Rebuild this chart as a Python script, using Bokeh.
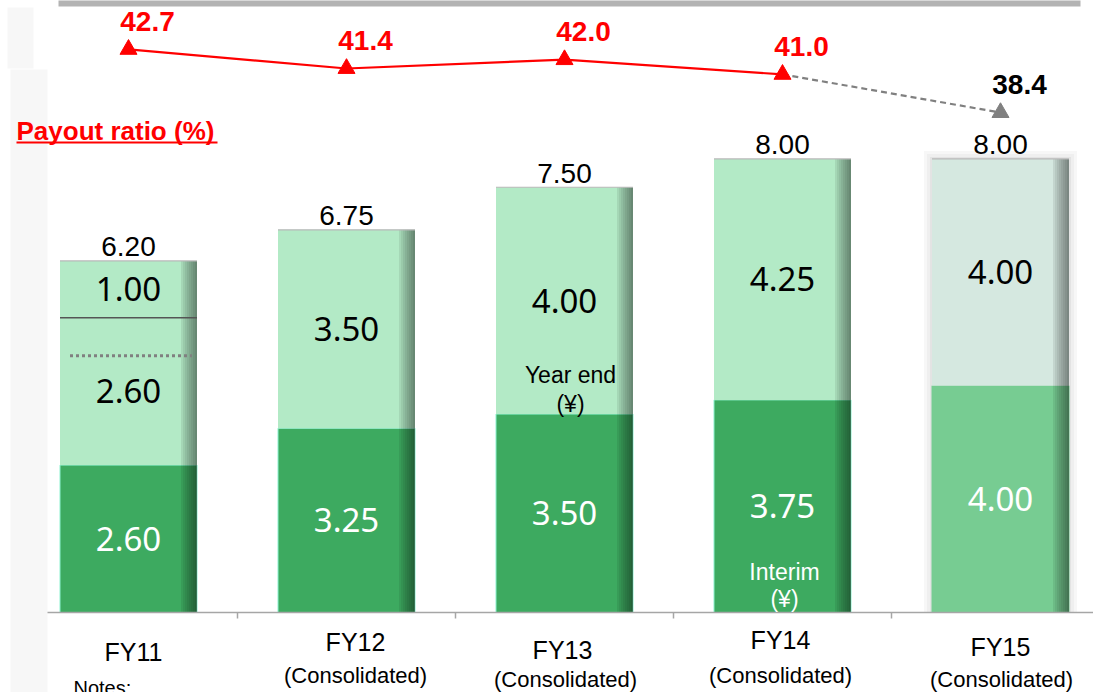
from bokeh.plotting import figure
from bokeh.models import Range1d
from bokeh.core.properties import value
from bokeh.embed import file_html
from bokeh.resources import INLINE

# ---------------- data ----------------
categories = ["FY11", "FY12", "FY13", "FY14", "FY15"]
sublabels = ["", "(Consolidated)", "(Consolidated)", "(Consolidated)", "(Consolidated)"]
interim = [2.60, 3.25, 3.50, 3.75, 4.00]
year_end = [2.60, 3.50, 4.00, 4.25, 4.00]
extra = [1.00, 0.0, 0.0, 0.0, 0.0]
totals = [6.20, 6.75, 7.50, 8.00, 8.00]
payout = [42.7, 41.4, 42.0, 41.0, 38.4]
fy11_dotted_level = 4.53

# ---------------- geometry / mapping ----------------
W, H = 1093, 692
X0, DX = 128.0, 218.0          # px of first category centre, px per category
BASE, PPU = 612.0, 56.7        # px of zero line, px per yen
R_TOP, R_PPU = 46.025, 14.7    # payout ratio axis

x_start, x_end = -X0 / DX, (W - X0) / DX
y_start, y_end = -(H - BASE) / PPU, BASE / PPU
r_start = R_TOP - H / R_PPU


def px_x(px):
    return (px - X0) / DX


def px_y(py):
    return (BASE - py) / PPU


xs = list(range(len(categories)))
BW = 137.0 / DX

p = figure(width=W, height=H, x_range=Range1d(x_start, x_end), y_range=Range1d(y_start, y_end),
           output_backend="svg", toolbar_location=None, min_border=0,
           min_border_left=0, min_border_right=0, min_border_top=0, min_border_bottom=0,
           outline_line_color=None, background_fill_color="white", border_fill_color="white")
p.extra_y_ranges = {"ratio": Range1d(r_start, R_TOP)}
p.axis.visible = False
p.grid.visible = False

# ---------------- decorative background ----------------
p.quad(left=[px_x(7)], right=[px_x(33)], top=[px_y(7)], bottom=[px_y(68)],
       fill_color="#F7F7F7", line_color=None)
p.quad(left=[px_x(10)], right=[px_x(47)], top=[px_y(69)], bottom=[px_y(700)],
       fill_color="#F7F7F7", line_color=None)
p.quad(left=[px_x(58)], right=[px_x(1080)], top=[px_y(-2)], bottom=[px_y(6)],
       fill_color="#B3B3B3", line_color=None)

# ---------------- bars ----------------
dark_cols = ["#3DAA60"] * 4 + ["#77CC92"]
light_cols = ["#B3EAC6"] * 4 + ["#D5E8E0"]
out_cols = ["#8DF2D0"] * 4 + ["#77CC92"]
stack1 = [a + b for a, b in zip(interim, year_end)]

# FY15 soft shadow
for grow, col in [(8, "#F7F7F7"), (5, "#EFEFEF"), (2, "#E3E3E3")]:
    p.vbar(x=[xs[4]], width=BW + 2 * grow / DX, bottom=[0], top=[totals[4] + grow / PPU],
           fill_color=col, line_color=None)

p.vbar(x=xs, width=BW, bottom=0, top=interim, fill_color=dark_cols, line_color=out_cols, line_width=1)
p.vbar(x=xs, width=BW, bottom=interim, top=stack1, fill_color=light_cols, line_color=None)
ex_x = [x for x, e in zip(xs, extra) if e > 0]
ex_b = [s for s, e in zip(stack1, extra) if e > 0]
ex_t = [s + e for s, e in zip(stack1, extra) if e > 0]
p.vbar(x=ex_x, width=BW, bottom=ex_b, top=ex_t, fill_color="#B3EAC6", line_color=None)

# right-edge shading
SW = 2.0 / DX
for k in range(8):
    a = 0.42 * (1 - k / 8.0) ** 0.8
    p.vbar(x=[x + BW / 2 - (k + 0.5) * SW for x in xs], width=SW, bottom=0, top=totals,
           fill_color="black", fill_alpha=a, line_color=None)

# top border lines
p.segment(x0=[x - BW / 2 for x in xs], x1=[x + BW / 2 for x in xs], y0=totals, y1=totals,
          line_color="#B8B8B8", line_width=1.2)
# FY11 separator between year-end and extra
p.segment(x0=[x - BW / 2 for x in ex_x], x1=[x + BW / 2 for x in ex_x], y0=ex_b, y1=ex_b,
          line_color="#555555", line_width=1.5)
# FY11 dotted line
p.segment(x0=[xs[0] - BW / 2 + 10 / DX], x1=[xs[0] + BW / 2 - 5 / DX],
          y0=[fy11_dotted_level], y1=[fy11_dotted_level],
          line_color="#808080", line_width=3, line_dash="3 3")

# axis line and ticks
p.segment(x0=[px_x(47)], x1=[px_x(W + 5)], y0=[0], y1=[0], line_color="#A6A6A6", line_width=1.5)
bounds = [x + 0.5 for x in xs[:-1]]
p.segment(x0=bounds, x1=bounds, y0=0, y1=-6 / PPU, line_color="#A6A6A6", line_width=1.5)

# ---------------- labels in bars ----------------
inner_font = value("Noto Sans")
p.text(x=xs, y=[i / 2 for i in interim], text=["%.2f" % v for v in interim],
       text_font=inner_font, text_font_size="33px", text_color="white",
       text_align="center", text_baseline="middle")
p.text(x=xs, y=[a + b / 2 for a, b in zip(interim, year_end)], text=["%.2f" % v for v in year_end],
       text_font=inner_font, text_font_size="33px", text_color="black",
       text_align="center", text_baseline="middle")
p.text(x=ex_x, y=[b + (t - b) / 2 for b, t in zip(ex_b, ex_t)],
       text=["%.2f" % e for e in extra if e > 0],
       text_font=inner_font, text_font_size="33px", text_color="black",
       text_align="center", text_baseline="middle")

# totals
arial = value("Liberation Sans")
p.text(x=xs, y=totals, text=["%.2f" % v for v in totals], y_offset=-14,
       text_font=arial, text_font_size="28px", text_color="black",
       text_align="center", text_baseline="middle")

# Year end / Interim annotations
p.text(x=[xs[2], xs[2]], y=[interim[2], interim[2]], text=["Year end", "(¥)"],
       y_offset=[-39, -10], x_offset=[6, 6],
       text_font=arial, text_font_size="23px", text_color="black",
       text_align="center", text_baseline="middle")
p.text(x=[xs[3], xs[3]], y=[0, 0], text=["Interim", "(¥)"],
       y_offset=[-41, -14], x_offset=[2, 2],
       text_font=arial, text_font_size="23px", text_color="white",
       text_align="center", text_baseline="middle")

# category labels
p.text(x=xs, y=0, text=categories, x_offset=[5, 9, -2, -2, 0], y_offset=[39, 29, 37, 27, 34],
       text_font=arial, text_font_size="25px", text_color="black",
       text_align="center", text_baseline="middle")
sx = [x for x, s in zip(xs, sublabels) if s]
p.text(x=sx, y=0, text=[s for s in sublabels if s], x_offset=[9, 1, -2, 1], y_offset=[63, 67, 63, 67],
       text_font=arial, text_font_size="22px", text_color="black",
       text_align="center", text_baseline="middle")
p.text(x=[px_x(73)], y=[0], text=["Notes:"], y_offset=[75],
       text_font=arial, text_font_size="20px", text_color="black",
       text_align="left", text_baseline="middle")

# ---------------- payout ratio line ----------------
p.line(x=xs[:4], y=payout[:4], y_range_name="ratio", line_color="#FF0000", line_width=2.2)
p.line(x=xs[3:5], y=payout[3:5], y_range_name="ratio", line_color="#808080", line_width=2.2,
       line_dash="6 4")
p.scatter(x=xs[:4], y=payout[:4], y_range_name="ratio", marker="triangle", size=17,
          fill_color="#FF0000", line_color="#FF0000")
p.scatter(x=xs[4:], y=payout[4:], y_range_name="ratio", marker="triangle", size=17,
          fill_color="#808080", line_color="#808080")
p.text(x=xs, y=payout, y_range_name="ratio", text=["%.1f" % v for v in payout],
       x_offset=19, y_offset=-28, text_font=arial, text_font_style="bold", text_font_size="28px",
       text_color=["#FF0000"] * 4 + ["black"], text_align="center", text_baseline="middle")

# title-ish axis label
p.text(x=[px_x(16)], y=[px_y(130)], text=["Payout ratio (%)"], text_font=arial,
       text_font_style="bold", text_font_size="26px", text_color="#FF0000",
       text_align="left", text_baseline="middle")
p.segment(x0=[px_x(16)], x1=[px_x(217)], y0=[px_y(142)], y1=[px_y(142)],
          line_color="#FF0000", line_width=2)

open("out.html", "w").write(file_html(p, INLINE))
